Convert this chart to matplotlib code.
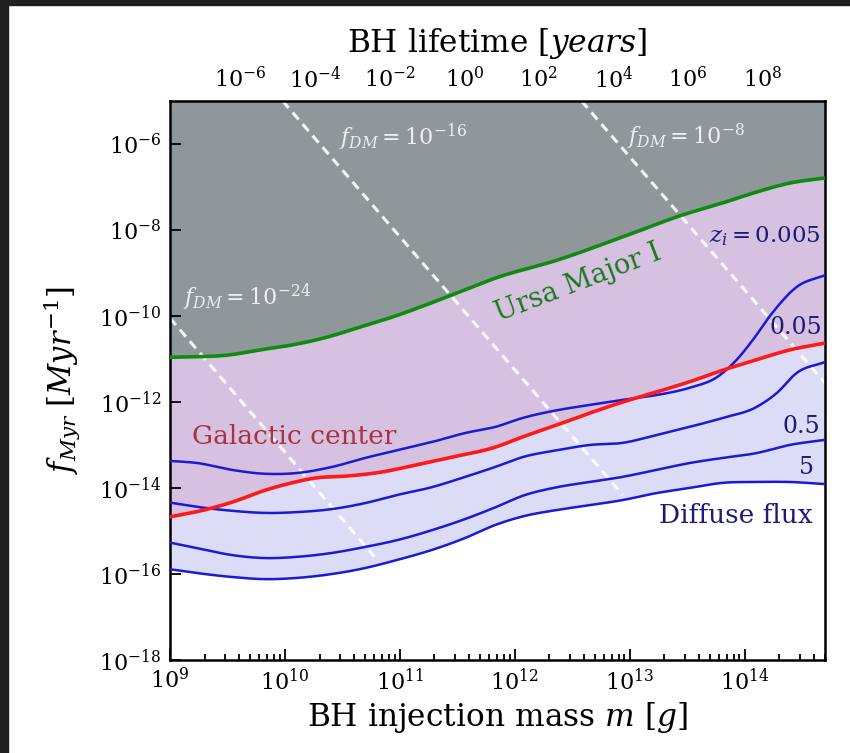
"""Contraintes f_Myr vs masse d'injection des trous noirs primordiaux."""
import numpy as np
import matplotlib
matplotlib.use("Agg")
import matplotlib.pyplot as plt
from matplotlib.patches import Rectangle
from matplotlib.ticker import NullLocator

plt.rcParams["font.family"] = ["DejaVu Serif"]
plt.rcParams["mathtext.fontset"] = "dejavuserif"

# --------------------------------------------------------------------------
# Données (log10 de la masse en g, log10 de f_Myr)
# --------------------------------------------------------------------------
uma_logm = [9.0, 9.2, 9.5, 9.78, 10.07, 10.37, 10.65, 10.94, 11.23, 11.52,
            11.83, 12.37, 12.94, 13.46, 13.81, 14.10, 14.39, 14.70]
uma_logf = [-10.96, -10.95, -10.91, -10.79, -10.67, -10.49, -10.26, -10.02,
            -9.74, -9.44, -9.12, -8.70, -8.16, -7.65, -7.37, -7.12, -6.91, -6.79]

gc_logm = [9.0, 9.30, 9.54, 9.83, 10.06, 10.26, 10.55, 10.84, 11.13, 11.42,
           11.83, 12.07, 12.37, 12.65, 12.94, 13.23, 13.52, 13.81, 14.10,
           14.39, 14.70]
gc_logf = [-14.67, -14.51, -14.33, -14.05, -13.88, -13.77, -13.72, -13.63,
           -13.47, -13.30, -13.05, -12.81, -12.53, -12.26, -12.00, -11.77,
           -11.53, -11.26, -11.02, -10.79, -10.63]

z005_logm = [9.0, 9.24, 9.54, 9.83, 10.11, 10.41, 10.70, 10.98, 11.28, 11.57,
             11.83, 12.07, 12.37, 12.65, 12.94, 13.23, 13.52, 13.76, 13.93,
             14.07, 14.24, 14.45, 14.70]
z005_logf = [-13.37, -13.42, -13.58, -13.67, -13.65, -13.51, -13.30, -13.12,
             -12.93, -12.72, -12.58, -12.37, -12.19, -12.07, -11.95, -11.84,
             -11.67, -11.42, -11.02, -10.56, -9.93, -9.33, -9.05]

z05_logm = [9.0, 9.24, 9.54, 9.83, 10.11, 10.41, 10.70, 10.98, 11.28, 11.57,
            11.83, 12.07, 12.37, 12.65, 12.94, 13.23, 13.52, 13.81, 14.10,
            14.28, 14.45, 14.70]
z05_logf = [-14.34, -14.44, -14.53, -14.58, -14.56, -14.49, -14.35, -14.16,
            -13.98, -13.74, -13.51, -13.28, -13.12, -13.00, -12.95, -12.77,
            -12.58, -12.37, -12.12, -11.79, -11.33, -11.07]

grid_logm = [9.0, 9.24, 9.54, 9.83, 10.11, 10.41, 10.70, 10.98, 11.28, 11.57,
             11.83, 12.07, 12.37, 12.65, 12.94, 13.23, 13.52, 13.81, 14.10,
             14.39, 14.70]
z5_logf = [-15.27, -15.40, -15.56, -15.63, -15.60, -15.51, -15.37, -15.21,
           -14.98, -14.72, -14.45, -14.18, -13.98, -13.86, -13.74, -13.58,
           -13.42, -13.30, -13.19, -13.00, -12.88]
z50_logf = [-15.89, -15.98, -16.07, -16.12, -16.09, -16.00, -15.86, -15.67,
            -15.44, -15.16, -14.86, -14.66, -14.51, -14.40, -14.28, -14.12,
            -14.00, -13.88, -13.86, -13.86, -13.91]

# droites f_DM (début / fin)
fdm_exp = [-24, -16, -8]
fdm_logm0 = [9.0, 9.98, 12.58]
fdm_logf0 = [-10.05, -5.0, -5.0]
fdm_logm1 = [10.78, 12.94, 14.70]
fdm_logf1 = [-15.60, -14.16, -11.56]

# axe du haut : durée de vie ~ m^3.08, 1 an pour log10(m) = 11.56
LIFE_EXP = 3.08
LOGM_1YR = 11.56
life_ticks = [1e-6, 1e-4, 1e-2, 1e0, 1e2, 1e4, 1e6, 1e8]

XMIN, XMAX = 1e9, 5e14
YMIN, YMAX = 1e-18, 1e-5


def smooth(xs, ys, xx):
    """Hermite cubique (pentes par différences finies) en espace log-log."""
    x = np.asarray(xs, float)
    y = np.asarray(ys, float)
    d = np.gradient(y, x)
    i = np.clip(np.searchsorted(x, xx) - 1, 0, len(x) - 2)
    h = x[i + 1] - x[i]
    t = (xx - x[i]) / h
    h00 = 2 * t**3 - 3 * t**2 + 1
    h10 = t**3 - 2 * t**2 + t
    h01 = -2 * t**3 + 3 * t**2
    h11 = t**3 - t**2
    return h00 * y[i] + h10 * h * d[i] + h01 * y[i + 1] + h11 * h * d[i + 1]


def m_to_tau(m):
    with np.errstate(divide="ignore", invalid="ignore"):
        return 10.0 ** (LIFE_EXP * (np.log10(m) - LOGM_1YR))


def tau_to_m(t):
    with np.errstate(divide="ignore", invalid="ignore"):
        return 10.0 ** (np.log10(t) / LIFE_EXP + LOGM_1YR)


fig = plt.figure(figsize=(8.5, 7.53), dpi=100)
ax = fig.add_axes([0.2, 0.1235, 0.7706, 0.7424])
ax.set_xscale("log")
ax.set_yscale("log")
ax.set_xlim(XMIN, XMAX)
ax.set_ylim(YMIN, YMAX)

lm = np.linspace(9.0, 14.70, 600)
m = 10 ** lm
f_uma = 10 ** smooth(uma_logm, uma_logf, lm)
f_gc = 10 ** smooth(gc_logm, gc_logf, lm)
f_z005 = 10 ** smooth(z005_logm, z005_logf, lm)
f_z05 = 10 ** smooth(z05_logm, z05_logf, lm)
f_z5 = 10 ** smooth(grid_logm, z5_logf, lm)
f_z50 = 10 ** smooth(grid_logm, z50_logf, lm)

# zones
ax.fill_between(m, f_uma, YMAX, color="#8f979b", lw=0, zorder=1)
ax.fill_between(m, f_gc, f_uma, color="#d7c1e1", lw=0, zorder=1)
ax.fill_between(m, f_z50, f_gc, color="#dddcf7", lw=0, zorder=1)

# droites f_DM
for e, a0, b0, a1, b1 in zip(fdm_exp, fdm_logm0, fdm_logf0, fdm_logm1, fdm_logf1):
    ax.plot([10 ** a0, 10 ** a1], [10 ** b0, 10 ** b1], color="white", lw=2.2,
            ls=(0, (3, 2)), alpha=0.9, zorder=2)

# courbes
blue = "#1a1ad6"
for f in (f_z005, f_z05, f_z5, f_z50):
    ax.plot(m, f, color=blue, lw=1.8, zorder=3)
ax.plot(m, f_uma, color="#118a11", lw=2.6, zorder=4)
ax.plot(m, f_gc, color="#ff1a1a", lw=2.6, zorder=4)

# textes
fdm_col = "#eeeeee"
ax.text(10 ** 9.11, 10 ** -9.56, r"$f_{DM} = 10^{-24}$", color=fdm_col,
        fontsize=16, va="center", ha="left")
ax.text(10 ** 10.47, 10 ** -5.84, r"$f_{DM} = 10^{-16}$", color=fdm_col,
        fontsize=16, va="center", ha="left")
ax.text(10 ** 12.98, 10 ** -5.84, r"$f_{DM} = 10^{-8}$", color=fdm_col,
        fontsize=16, va="center", ha="left")
ax.text(10 ** 12.55, 10 ** -9.23, "Ursa Major I", color="#1a7a1a", fontsize=19.5,
        rotation=21, ha="center", va="center", rotation_mode="anchor")
ax.text(10 ** 9.19, 10 ** -12.81, "Galactic center", color="#a83240",
        fontsize=19, ha="left", va="center")
navy = "#1c1c78"
ax.text(10 ** 14.66, 10 ** -8.14, r"$z_i = 0.005$", color=navy, fontsize=16.5,
        ha="right", va="center")
ax.text(10 ** 14.67, 10 ** -10.26, "0.05", color=navy, fontsize=17,
        ha="right", va="center")
ax.text(10 ** 14.66, 10 ** -12.58, "0.5", color=navy, fontsize=17,
        ha="right", va="center")
ax.text(10 ** 14.60, 10 ** -13.53, "5", color=navy, fontsize=17,
        ha="right", va="center")
ax.text(10 ** 14.59, 10 ** -14.65, "Diffuse flux", color=navy, fontsize=19,
        ha="right", va="center")

# axes
ax.set_yticks(10.0 ** np.arange(-18, -5, 2))
ax.yaxis.set_minor_locator(NullLocator())
ax.tick_params(which="both", direction="in", labelsize=16, width=1.3)
ax.tick_params(which="major", length=8, pad=6)
ax.tick_params(which="minor", length=4.5)
for s in ax.spines.values():
    s.set_linewidth(1.8)
ax.set_xlabel(r"BH injection mass $m$ [$g$]", fontsize=22.5, labelpad=4)
ax.set_ylabel(r"$f_{Myr}$ [$Myr^{-1}$]", fontsize=22, labelpad=12)

sec = ax.secondary_xaxis("top", functions=(m_to_tau, tau_to_m))
sec.set_xticks(life_ticks)
sec.xaxis.set_minor_locator(NullLocator())
sec.tick_params(direction="in", labelsize=16, length=8, width=1.3, pad=6)
sec.set_xlabel(r"BH lifetime [$years$]", fontsize=22.5, labelpad=10)

# cadre sombre de la capture
fig.patches.append(Rectangle((0, 0), 8 / 850, 1, transform=fig.transFigure,
                             color="#202020", zorder=0))
fig.patches.append(Rectangle((0, 1 - 5 / 753), 1, 5 / 753,
                             transform=fig.transFigure, color="#202020", zorder=0))

fig.savefig("out.png", dpi=100)
